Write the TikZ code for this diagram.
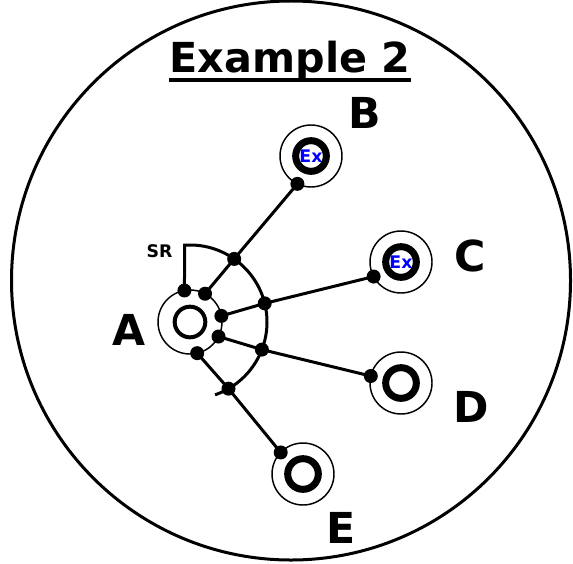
\documentclass[tikz,border=0pt]{standalone}
\usepackage{fontspec}
\setmainfont{DejaVu Sans}
\tikzset{
    frame_style/.style={
        circle,               % 外框为圆形
        draw=black,           % 边框颜色
        line width=2.25pt,    % 边框线宽
        minimum size=419.25pt,% 外框直径
        inner sep=0pt
    },
    halo_style/.style={
        circle,               % 外圈细线
        draw=black,
        line width=1.1pt,
        minimum size=46.5pt,
        inner sep=0pt,
        outer sep=0pt
    },
    ring_style/.style={
        circle,               % 内圈粗线
        draw=black,
        line width=5.25pt,
        minimum size=23pt,
        inner sep=0pt,
        font=\bfseries\fontsize{13}{15}\selectfont,
        text=blue             % Ex 文字为蓝色
    },
    dot_style/.style={
        circle,               % 实心连接点
        fill=black,
        minimum size=10.5pt,
        inner sep=0pt
    },
    link_style/.style={
        line width=2.25pt     % 连线加粗
    },
    letter_style/.style={
        font=\bfseries\fontsize{32}{38}\selectfont,
        inner sep=0pt
    }
}
\begin{document}
\begin{tikzpicture}[x=0.75pt, y=-0.75pt] % 以像素为单位, y 向下
    \useasboundingbox (0,0) rectangle (573,563);

    % 1. 外框与标题
    \node[frame_style] (frame) at (291,280.5) {};
    \node[letter_style, font=\bfseries\fontsize{31}{37}\selectfont, anchor=base] (title) at (290,73) {Example 2};
    \draw[line width=3pt] ([yshift=-5.25pt]title.base west) -- ([yshift=-5.25pt]title.base east);

    % 2. 定义节点位置
    \node[halo_style, minimum size=48pt] (Ah) at (190,322) {};
    \node[ring_style, line width=3pt] (A) at (190,322) {};
    \node[halo_style] (Bh) at (311,156) {};
    \node[ring_style] (B) at (311,156) {Ex};
    \node[halo_style] (Ch) at (401,262) {};
    \node[ring_style] (C) at (401,262) {Ex};
    \node[halo_style] (Dh) at (401,383) {};
    \node[ring_style] (D) at (401,383) {};
    \node[halo_style] (Eh) at (303,474) {};
    \node[ring_style] (E) at (303,474) {};
    \node[circle, minimum size=115.5pt, inner sep=0pt, outer sep=0pt] (srarc) at (190,322) {};

    % 3. 连接点
    \node[dot_style] (a1) at (Ah.100) {};
    \node[dot_style] (a2) at (Ah.62) {};
    \node[dot_style] (a3) at (Ah.11) {};
    \node[dot_style] (a4) at (Ah.-27) {};
    \node[dot_style] (a5) at (Ah.-77) {};
    \node[dot_style] (j1) at (srarc.55) {};
    \node[dot_style] (j2) at (srarc.14) {};
    \node[dot_style] (j3) at (srarc.-21) {};
    \node[dot_style] (j4) at (srarc.-60) {};
    \node[dot_style] (bd) at (Bh.244) {};
    \node[dot_style] (cd) at (Ch.208) {};
    \node[dot_style] (dd) at (Dh.167) {};
    \node[dot_style] (ed) at (Eh.136) {};

    % 4. 绘制连线与 SR 弧
    \draw[link_style] (a1.center) -- (srarc.94) arc[start angle=94, end angle=-71, radius=57.75pt];
    \draw[link_style] (a2.center) -- (j1.center) -- (bd.center);
    \draw[link_style] (a3.center) -- (j2.center) -- (cd.center);
    \draw[link_style] (a4.center) -- (j3.center) -- (dd.center);
    \draw[link_style] (a5.center) -- (j4.center) -- (ed.center);

    % 5. 标签
    \node[letter_style] (Alabel) at (129,330) {A};
    \node[letter_style] (Blabel) at (365,113) {B};
    \node[letter_style] (Clabel) at (470,256) {C};
    \node[letter_style] (Dlabel) at (471,407) {D};
    \node[letter_style] (Elabel) at (341,528) {E};
    \node[font=\bfseries\fontsize{13}{15}\selectfont, inner sep=0pt] (SR) at (159.5,251) {SR};
\end{tikzpicture}
\end{document}
